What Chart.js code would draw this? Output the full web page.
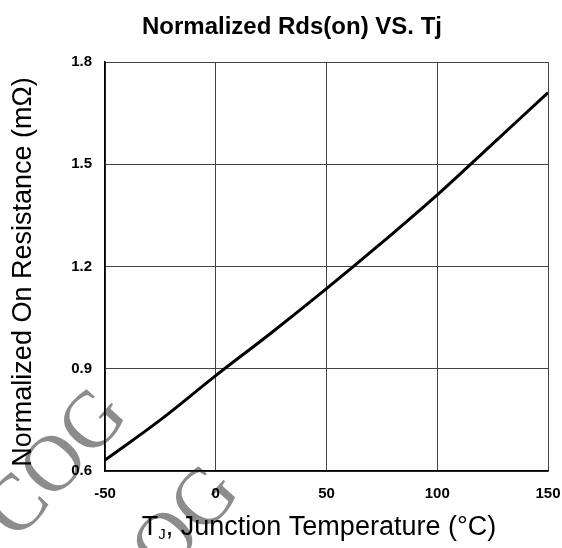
<!DOCTYPE html>
<html lang="en">
<head>
    <meta charset="UTF-8">
    <title>Normalized Rds(on) VS. Tj</title>
    <script src="https://cdn.jsdelivr.net/npm/chart.js"></script>
    <style>
        html, body { margin: 0; padding: 0; background: #fff; }
        #wrap { width: 562px; height: 548px; }
    </style>
</head>
<body>
<div id="wrap">
    <canvas id="chart" width="562" height="548"></canvas>
</div>

<script>
    // values
    const temps = [-50, -25, 0, 25, 50, 75, 100, 125, 150];
    const rdsOn = [0.632, 0.75, 0.88, 1.005, 1.135, 1.27, 1.41, 1.56, 1.71];
    const xTicks = [-50, 0, 50, 100, 150];
    const yTicks = [0.6, 0.9, 1.2, 1.5, 1.8];

    const FONT = "'Liberation Sans', Arial, sans-serif";

    // grey "COG" stamp behind the chart
    const watermark = {
        id: 'watermark',
        beforeDraw(chart) {
            const ctx = chart.ctx;
            ctx.save();
            ctx.fillStyle = '#8c8c8c';
            ctx.font = "80px 'Liberation Serif', 'DejaVu Serif', serif";
            ctx.textAlign = 'center';
            ctx.textBaseline = 'middle';
            [[58, 465], [170, 542]].forEach(p => {
                ctx.save();
                ctx.translate(p[0], p[1]);
                ctx.rotate(-48 * Math.PI / 180);
                ctx.fillText('COG', 0, 0);
                ctx.restore();
            });
            ctx.restore();
        }
    };

    // titles drawn by hand: main title, rotated y title, x title with subscript J
    const titles = {
        id: 'titles',
        afterDraw(chart) {
            const ctx = chart.ctx;
            ctx.save();
            ctx.fillStyle = '#000';
            ctx.textBaseline = 'middle';

            ctx.textAlign = 'center';
            ctx.font = 'bold 24px ' + FONT;
            ctx.fillText('Normalized Rds(on) VS. Tj', 292, 27);

            ctx.save();
            ctx.translate(24, 272);
            ctx.rotate(-Math.PI / 2);
            ctx.font = '27px ' + FONT;
            ctx.fillText('Normalized On Resistance (mΩ)', 0, 0);
            ctx.restore();

            ctx.textAlign = 'left';
            const y = 528;
            const big = '27px ' + FONT;
            const small = '15px ' + FONT;
            const rest = ', Junction Temperature (°C)';
            ctx.font = big;
            const wT = ctx.measureText('T').width;
            const wR = ctx.measureText(rest).width;
            ctx.font = small;
            const wJ = ctx.measureText('J').width;
            let x = 319 - (wT + wJ + wR) / 2;
            ctx.font = big;
            ctx.fillText('T', x, y);
            x += wT;
            ctx.font = small;
            ctx.fillText('J', x, y + 7);
            x += wJ;
            ctx.font = big;
            ctx.fillText(rest, x, y);
            ctx.restore();
        }
    };

    new Chart(document.getElementById('chart'), {
        type: 'line',
        data: {
            datasets: [{
                data: temps.map((t, i) => ({x: t, y: rdsOn[i]})),
                borderColor: '#000',
                borderWidth: 3,
                pointRadius: 0,
                tension: 0.4,
                fill: false
            }]
        },
        options: {
            responsive: false,
            animation: false,
            layout: {padding: {left: 0, right: 14, top: 62, bottom: 0}},
            plugins: {
                legend: {display: false},
                tooltip: {enabled: false},
                title: {display: false}
            },
            scales: {
                x: {
                    type: 'linear',
                    min: -50,
                    max: 150,
                    afterBuildTicks: s => { s.ticks = xTicks.map(v => ({value: v})); },
                    afterFit: s => { s.height = 77; s.paddingLeft = 0; s.paddingRight = 0; },
                    grid: {color: '#444', lineWidth: 1, drawTicks: false},
                    border: {color: '#000', width: 1.5},
                    ticks: {
                        color: '#000',
                        padding: 14,
                        font: {family: FONT, size: 15, weight: 'bold'}
                    }
                },
                y: {
                    min: 0.6,
                    max: 1.8,
                    afterBuildTicks: s => { s.ticks = yTicks.map(v => ({value: v})); },
                    afterFit: s => { s.width = 105; s.paddingTop = 0; s.paddingBottom = 0; },
                    grid: {color: '#444', lineWidth: 1, drawTicks: false},
                    border: {color: '#000', width: 1.5},
                    ticks: {
                        color: '#000',
                        padding: 13,
                        font: {family: FONT, size: 15, weight: 'bold'},
                        callback: v => v.toFixed(1)
                    }
                }
            }
        },
        plugins: [watermark, titles]
    });
</script>
</body>
</html>
